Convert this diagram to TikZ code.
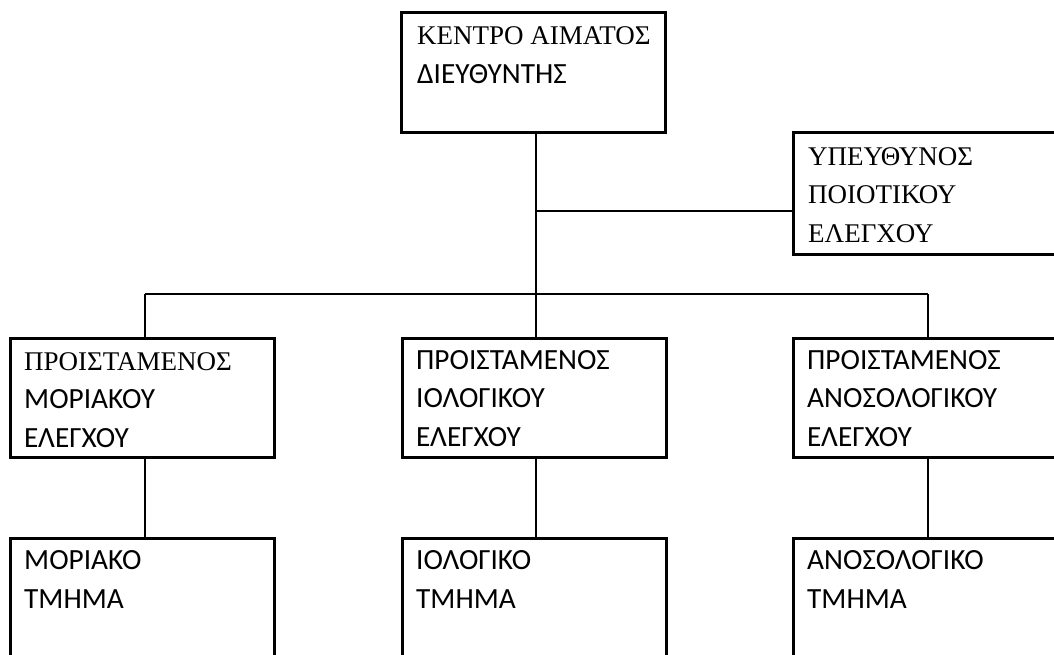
\documentclass[tikz,border=0pt]{standalone}
\usepackage{fontspec}
\setmainfont{Liberation Serif}
\newfontfamily\sansgr{Carlito}
\newcommand{\srf}{\fontsize{27}{38.5}\selectfont\rmfamily}
\newcommand{\snf}{\fontsize{29.3}{38.5}\sansgr}
\begin{document}
\begin{tikzpicture}[x=1pt,y=-1pt,
  box/.style={draw=black,line width=3pt,inner sep=0pt,minimum width=264pt,anchor=north west},
  txt/.style={anchor=base west,align=left,inner sep=0pt,font=\fontsize{29.3}{38.5}\selectfont},
  conn/.style={draw=black,line width=2pt}]
\useasboundingbox (0,0) rectangle (1054,655);
\fill[white] (0,0) rectangle (1054,655);
\clip (0,0) rectangle (1054,655);
% boxes
\node[box,minimum height=120pt] (top) at (400,11) {};
\node[box,minimum height=122pt] (qc) at (792,131) {};
\node[box,minimum height=119pt] (pL) at (9,337) {};
\node[box,minimum height=119pt] (pM) at (401,337) {};
\node[box,minimum height=119pt] (pR) at (792,337) {};
\node[box,minimum height=170pt] (dL) at (9,537) {};
\node[box,minimum height=170pt] (dM) at (401,537) {};
\node[box,minimum height=170pt] (dR) at (792,537) {};
% texts (anchored at the baseline of the last line)
\node[txt] (topT) at (417,83.5) {\srf ΚΕΝΤΡΟ ΑΙΜΑΤΟΣ\\\snf ΔΙΕΥΘΥΝΤΗΣ};
\node[txt] (qcT) at (808,242) {\srf ΥΠΕΥΘΥΝΟΣ\\\srf ΠΟΙΟΤΙΚΟΥ\\\srf ΕΛΕΓΧΟΥ};
\node[txt] (pLT) at (24,447) {\srf ΠΡΟΙΣΤΑΜΕΝΟΣ\\\snf ΜΟΡΙΑΚΟΥ\\\snf ΕΛΕΓΧΟΥ};
\node[txt] (pMT) at (416,446) {\snf ΠΡΟΙΣΤΑΜΕΝΟΣ\\\snf ΙΟΛΟΓΙΚΟΥ\\\snf ΕΛΕΓΧΟΥ};
\node[txt] (pRT) at (807,446) {\snf ΠΡΟΙΣΤΑΜΕΝΟΣ\\\snf ΑΝΟΣΟΛΟΓΙΚΟΥ\\\snf ΕΛΕΓΧΟΥ};
\node[txt] (dLT) at (24,608) {\snf ΜΟΡΙΑΚΟ\\\snf ΤΜΗΜΑ};
\node[txt] (dMT) at (416,608) {\snf ΙΟΛΟΓΙΚΟ\\\snf ΤΜΗΜΑ};
\node[txt] (dRT) at (807,608) {\snf ΑΝΟΣΟΛΟΓΙΚΟ\\\snf ΤΜΗΜΑ};
% junctions
\coordinate (jL) at (145,294);
\coordinate (jM) at (536,294);
\coordinate (jR) at (928,294);
\coordinate (jQ) at (536,211);
% connectors
\draw[conn] (top.south -| jM) -- (jM);
\draw[conn] (jQ) -- (qc.west |- jQ);
\draw[conn] (jL) -- (jR);
\draw[conn] (jL) -- (pL.north -| jL);
\draw[conn] (jM) -- (pM.north -| jM);
\draw[conn] (jR) -- (pR.north -| jR);
\draw[conn] (pL.south -| jL) -- (dL.north -| jL);
\draw[conn] (pM.south -| jM) -- (dM.north -| jM);
\draw[conn] (pR.south -| jR) -- (dR.north -| jR);
\end{tikzpicture}
\end{document}
